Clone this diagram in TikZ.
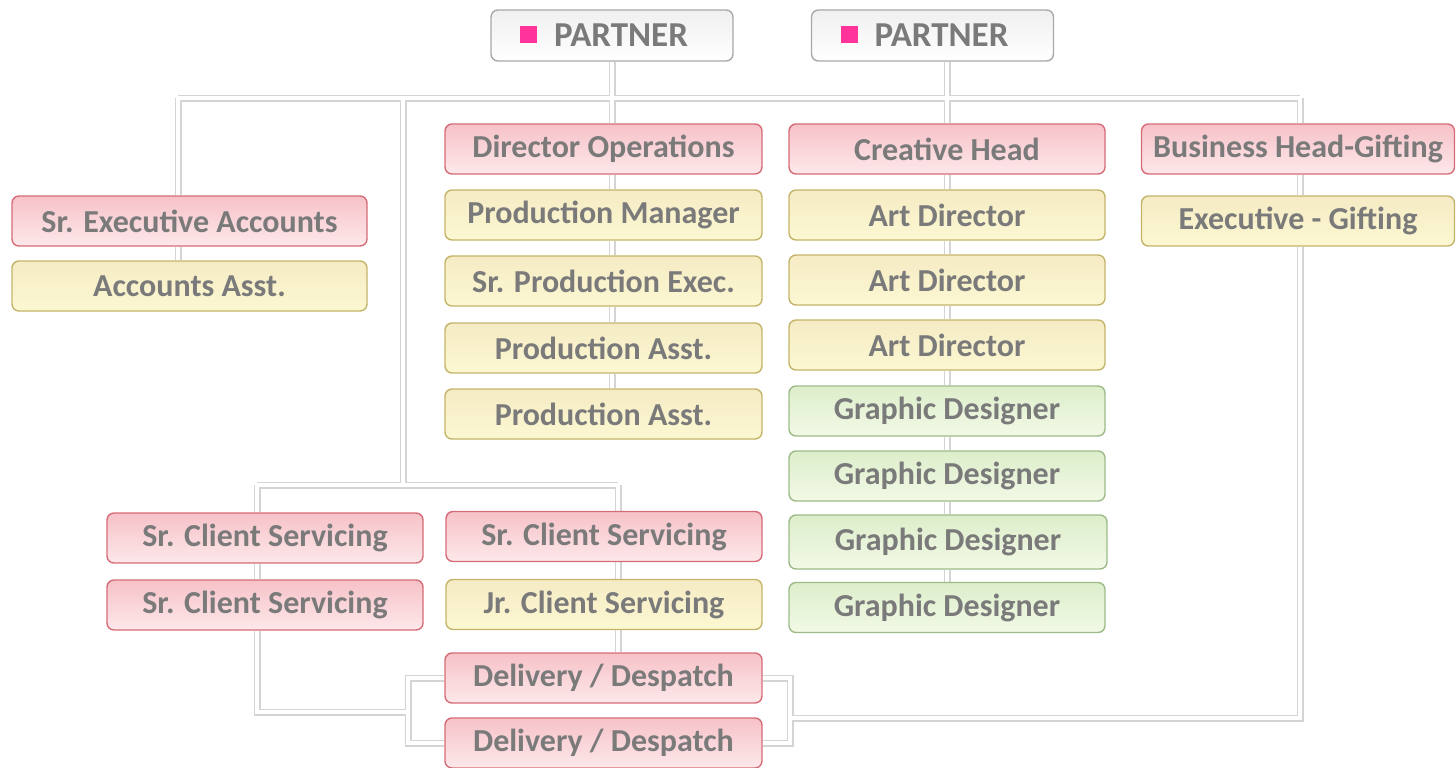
\documentclass[tikz,border=0pt]{standalone}
\usepackage{fontspec}
\setmainfont{Carlito}
\usetikzlibrary{backgrounds,calc}
\definecolor{txt}{HTML}{7A7A7A}
\definecolor{pinkdraw}{HTML}{D66C77}
\definecolor{pinktop}{HTML}{F6C2C8}
\definecolor{pinkbot}{HTML}{FDE8EA}
\definecolor{yeldraw}{HTML}{C4B46A}
\definecolor{yeltop}{HTML}{F5EBC4}
\definecolor{yelbot}{HTML}{FCF8D2}
\definecolor{grndraw}{HTML}{9DBB88}
\definecolor{grntop}{HTML}{DDEECB}
\definecolor{grnbot}{HTML}{F2F9E6}
\definecolor{ptdraw}{HTML}{A8A8A8}
\definecolor{pmark}{HTML}{FF3399}
\definecolor{lineshadow}{HTML}{D4D4D4}
\begin{document}
\begin{tikzpicture}[x=1pt,y=-1pt,
  box/.style={rounded corners=7pt, font=\bfseries\fontsize{32}{38}\selectfont, text=txt,
    inner sep=0pt, line width=1.4pt, minimum height=50},
  pinkbox/.style={box, draw=pinkdraw, top color=pinktop, bottom color=pinkbot},
  yelbox/.style={box, draw=yeldraw, top color=yeltop, bottom color=yelbot},
  grnbox/.style={box, draw=grndraw, top color=grntop, bottom color=grnbot},
  partnerbox/.style={box, draw=ptdraw, top color=gray!12, bottom color=white,
    font=\bfseries\fontsize{35}{40}\selectfont,
    minimum width=242, minimum height=51, text width=184pt, align=left, inner xsep=29pt},
  connshadow/.style={draw=lineshadow, line width=7pt},
  connwhite/.style={draw=white, line width=4pt}
]
\useasboundingbox (0,0) rectangle (1456,768);

% partners
\node[partnerbox] (p1) at (612,35.5) {\textcolor{pmark}{\rule[4pt]{17pt}{17pt}}\hspace{17pt}PARTNER};
\node[partnerbox] (p2) at (932.5,35.5) {\textcolor{pmark}{\rule[4pt]{17pt}{17pt}}\hspace{17pt}PARTNER};

% column coordinates
\coordinate (c1) at (178,98);
\coordinate (c4) at (1300,98);
\coordinate (cv) at (403,98);
\coordinate (cb) at (403,485);
\coordinate (cl) at (257,485);
\coordinate (cr) at (618,485);
\coordinate (bl) at (408,712);
\coordinate (br) at (790,718);

% accounts
\node[pinkbox, minimum width=355] (sea) at (189.5,221) {Sr. Executive Accounts};
\node[yelbox, minimum width=355] (aa) at (189.5,286) {Accounts Asst.};

% operations
\node[pinkbox, minimum width=317] (dirop) at (603.5,149) {Director Operations};
\node[yelbox, minimum width=317] (pm) at (603.5,215) {Production Manager};
\node[yelbox, minimum width=317] (spe) at (603.5,281) {Sr. Production Exec.};
\node[yelbox, minimum width=317] (pa1) at (603.5,348) {Production Asst.};
\node[yelbox, minimum width=317] (pa2) at (603.5,414) {Production Asst.};

% creative
\node[pinkbox, minimum width=316] (ch) at (947,149) {Creative Head};
\node[yelbox, minimum width=316] (ad1) at (947,215) {Art Director};
\node[yelbox, minimum width=316] (ad2) at (947,280) {Art Director};
\node[yelbox, minimum width=316] (ad3) at (947,345) {Art Director};
\node[grnbox, minimum width=316] (gd1) at (947,411) {Graphic Designer};
\node[grnbox, minimum width=316] (gd2) at (947,476) {Graphic Designer};
\node[grnbox, minimum width=318, minimum height=54] (gd3) at (948,542) {Graphic Designer};
\node[grnbox, minimum width=316] (gd4) at (947,607.5) {Graphic Designer};

% gifting
\node[pinkbox, minimum width=313] (bh) at (1298,149) {Business Head-Gifting};
\node[yelbox, minimum width=313] (eg) at (1298,221) {Executive - Gifting};

% client servicing
\node[pinkbox, minimum width=316] (csl1) at (265,538) {Sr. Client Servicing};
\node[pinkbox, minimum width=316] (csl2) at (265,605) {Sr. Client Servicing};
\node[pinkbox, minimum width=316] (csr1) at (604,536.5) {Sr. Client Servicing};
\node[yelbox, minimum width=316] (jcs) at (604,604.5) {Jr. Client Servicing};

% delivery
\node[pinkbox, minimum width=317] (dd1) at (603.5,678) {Delivery / Despatch};
\node[pinkbox, minimum width=317] (dd2) at (603.5,743) {Delivery / Despatch};

\newcommand\orgconns{
  (c1) -- (c4)
  (c1) -- (sea.north -| c1)
  (sea.south -| c1) -- (aa.north -| c1)
  (p1.south) -- (dirop.north -| p1.south)
  (dirop.south -| p1.south) -- (pm.north -| p1.south)
  (pm.south -| p1.south) -- (spe.north -| p1.south)
  (spe.south -| p1.south) -- (pa1.north -| p1.south)
  (pa1.south -| p1.south) -- (pa2.north -| p1.south)
  (p2.south -| ch.north) -- (ch.north)
  (ch.south) -- (ad1.north)
  (ad1.south) -- (ad2.north)
  (ad2.south) -- (ad3.north)
  (ad3.south) -- (gd1.north)
  (gd1.south) -- (gd2.north)
  (gd2.south) -- (gd3.north -| gd2.south)
  (gd3.south -| gd2.south) -- (gd4.north)
  (c4) -- (bh.north -| c4)
  (bh.south -| c4) -- (eg.north -| c4)
  (eg.south -| c4) -- (c4 |- br) -- (br)
  (cv) -- (cb)
  (cl) -- (cr)
  (cl) -- (csl1.north -| cl)
  (csl1.south -| cl) -- (csl2.north -| cl)
  (csl2.south -| cl) -- (cl |- bl) -- (bl)
  (cr) -- (csr1.north -| cr)
  (csr1.south -| cr) -- (jcs.north -| cr)
  (jcs.south -| cr) -- (dd1.north -| cr)
  (dd1.west) -- (dd1.west -| bl) -- (dd2.west -| bl) -- (dd2.west)
  (dd1.east) -- (dd1.east -| br) -- (dd2.east -| br) -- (dd2.east)
}
\begin{pgfonlayer}{background}
  \draw[connshadow] \orgconns;
  \draw[connwhite] \orgconns;
\end{pgfonlayer}
\end{tikzpicture}
\end{document}
